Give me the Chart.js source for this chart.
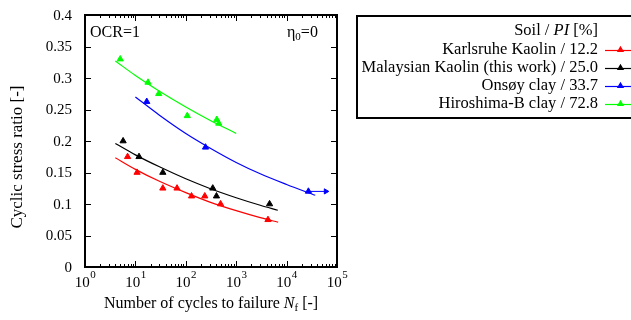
<!DOCTYPE html>
<html>
<head>
<meta charset="utf-8">
<script src="https://cdn.jsdelivr.net/npm/chart.js@4.4.1/dist/chart.umd.min.js"></script>
<style>
  html, body { margin: 0; padding: 0; background: #fff; }
  #wrap { width: 631px; height: 320px; }
</style>
</head>
<body>
<div id="wrap"><canvas id="chart" width="631" height="320"></canvas></div>
<script>
// ejes
const xTicks = [1, 10, 100, 1000, 10000, 100000];
const xTickExp = ['0', '1', '2', '3', '4', '5'];
const yTicks = [0, 0.05, 0.1, 0.15, 0.2, 0.25, 0.3, 0.35, 0.4];
const yTickLabels = ['0', '0.05', '0.1', '0.15', '0.2', '0.25', '0.3', '0.35', '0.4'];

// series
const soilNames = ['Karlsruhe Kaolin / 12.2', 'Malaysian Kaolin (this work) / 25.0', 'Onsøy clay / 33.7', 'Hiroshima-B clay / 72.8'];
const soilColors = ['#ff0000', '#000000', '#0000ff', '#00ff00'];

const karlsruheN = [7, 10.8, 35, 67, 130, 238, 490, 4270];
const karlsruheCSR = [0.175, 0.15, 0.125, 0.125, 0.1125, 0.1125, 0.1, 0.075];
const malaysianN = [5.7, 11.8, 35, 343, 406, 4590];
const malaysianCSR = [0.2, 0.175, 0.15, 0.125, 0.1125, 0.1];
const onsoyN = [16.8, 246, 27100];
const onsoyCSR = [0.2625, 0.19, 0.12];
const hiroshimaN = [5, 17.8, 29, 107, 412, 451];
const hiroshimaCSR = [0.33, 0.293, 0.275, 0.24, 0.234, 0.228];

// curvas de ajuste
const karlsruheFitN = [4, 10, 30, 100, 300, 1000, 3000, 6800];
const karlsruheFitCSR = [0.1734, 0.155, 0.136, 0.118, 0.103, 0.0894, 0.0783, 0.0711];
const malaysianFitN = [4, 10, 30, 100, 300, 1000, 3000, 6700];
const malaysianFitCSR = [0.196, 0.178, 0.159, 0.140, 0.1247, 0.110, 0.098, 0.0901];
const onsoyFitN = [10, 30, 100, 300, 1000, 3000, 10000, 37000];
const onsoyFitCSR = [0.27, 0.241, 0.212, 0.189, 0.166, 0.148, 0.131, 0.1138];
const hiroshimaFitN = [4, 10, 30, 100, 300, 1000];
const hiroshimaFitCSR = [0.327, 0.304, 0.279, 0.254, 0.233, 0.212];

// flecha de Onsøy
const onsoyArrowN = [27100, 60000];
const onsoyArrowCSR = [0.12, 0.12];

const SERIF = '"Liberation Serif", "DejaVu Serif", serif';

function pts(xs, ys) {
    return xs.map((x, i) => ({ x: x, y: ys[i] }));
}

function pointSet(xs, ys, color) {
    return {
        data: pts(xs, ys), showLine: false, pointStyle: 'triangle',
        pointRadius: 3.6, pointBorderWidth: 1, borderColor: color, backgroundColor: color
    };
}

function fitSet(xs, ys, color) {
    return {
        data: pts(xs, ys), pointRadius: 0, borderColor: color, borderWidth: 1.2,
        cubicInterpolationMode: 'monotone', fill: false
    };
}

const datasets = [
    fitSet(karlsruheFitN, karlsruheFitCSR, soilColors[0]),
    fitSet(malaysianFitN, malaysianFitCSR, soilColors[1]),
    fitSet(onsoyFitN, onsoyFitCSR, soilColors[2]),
    fitSet(hiroshimaFitN, hiroshimaFitCSR, soilColors[3]),
    pointSet(karlsruheN, karlsruheCSR, soilColors[0]),
    pointSet(malaysianN, malaysianCSR, soilColors[1]),
    pointSet(onsoyN, onsoyCSR, soilColors[2]),
    pointSet(hiroshimaN, hiroshimaCSR, soilColors[3]),
    {
        data: pts(onsoyArrowN, onsoyArrowCSR), borderColor: soilColors[2], backgroundColor: soilColors[2],
        borderWidth: 1, pointStyle: 'triangle', pointRadius: [0, 3], pointRotation: 90
    }
];

// dibuja marco, ticks, etiquetas, textos y leyenda
const decoPlugin = {
    id: 'deco',
    afterDatasetsDraw(chart) {
        const ctx = chart.ctx;
        const a = chart.chartArea;
        const xs = chart.scales.x, ys = chart.scales.y;
        ctx.save();
        ctx.strokeStyle = '#000';
        ctx.fillStyle = '#000';

        // ticks x (mayores y menores)
        ctx.lineWidth = 1;
        ctx.beginPath();
        for (let d = 0; d < xTicks.length; d++) {
            const px = Math.round(xs.getPixelForValue(xTicks[d])) + 0.5;
            ctx.moveTo(px, a.bottom); ctx.lineTo(px, a.bottom - 6);
            ctx.moveTo(px, a.top); ctx.lineTo(px, a.top + 6);
            if (d < xTicks.length - 1) {
                for (let m = 2; m < 10; m++) {
                    const mx = Math.round(xs.getPixelForValue(xTicks[d] * m)) + 0.5;
                    ctx.moveTo(mx, a.bottom); ctx.lineTo(mx, a.bottom - 3);
                    ctx.moveTo(mx, a.top); ctx.lineTo(mx, a.top + 3);
                }
            }
        }
        // ticks y
        yTicks.forEach(v => {
            const py = Math.round(ys.getPixelForValue(v)) + 0.5;
            ctx.moveTo(a.left, py); ctx.lineTo(a.left + 6, py);
            ctx.moveTo(a.right, py); ctx.lineTo(a.right - 6, py);
        });
        ctx.stroke();

        // marco
        ctx.lineWidth = 2;
        ctx.strokeRect(a.left, a.top, a.right - a.left, a.bottom - a.top);

        // etiquetas y
        ctx.font = '15px ' + SERIF;
        ctx.textAlign = 'right';
        ctx.textBaseline = 'middle';
        yTicks.forEach((v, i) => {
            ctx.fillText(yTickLabels[i], a.left - 13, ys.getPixelForValue(v) + 1);
        });

        // etiquetas x: 10^n
        xTicks.forEach((v, i) => {
            const px = xs.getPixelForValue(v);
            ctx.font = '15px ' + SERIF;
            const wBase = ctx.measureText('10').width;
            ctx.font = '11px ' + SERIF;
            const wExp = ctx.measureText(xTickExp[i]).width;
            const x0 = px - (wBase + wExp) / 2;
            ctx.textAlign = 'left';
            ctx.textBaseline = 'alphabetic';
            ctx.font = '15px ' + SERIF;
            ctx.fillText('10', x0, a.bottom + 20);
            ctx.font = '11px ' + SERIF;
            ctx.fillText(xTickExp[i], x0 + wBase + 0.5, a.bottom + 11);
        });

        // titulo eje x
        ctx.font = '16px ' + SERIF;
        const t1 = 'Number of cycles to failure ';
        const t2 = ' [-]';
        ctx.font = '16px ' + SERIF;
        const w1 = ctx.measureText(t1).width;
        const w3 = ctx.measureText(t2).width;
        ctx.font = 'italic 16px ' + SERIF;
        const w2 = ctx.measureText('N').width;
        ctx.font = '11px ' + SERIF;
        const wf = ctx.measureText('f').width;
        let tx = (a.left + a.right) / 2 - (w1 + w2 + wf + w3) / 2;
        const ty = 308;
        ctx.font = '16px ' + SERIF;
        ctx.fillText(t1, tx, ty); tx += w1;
        ctx.font = 'italic 16px ' + SERIF;
        ctx.fillText('N', tx, ty); tx += w2;
        ctx.font = '11px ' + SERIF;
        ctx.fillText('f', tx, ty + 3); tx += wf;
        ctx.font = '16px ' + SERIF;
        ctx.fillText(t2, tx, ty);

        // titulo eje y
        ctx.save();
        ctx.translate(18, 157);
        ctx.rotate(-Math.PI / 2);
        ctx.textAlign = 'center';
        ctx.textBaseline = 'middle';
        ctx.font = '17px ' + SERIF;
        ctx.fillText('Cyclic stress ratio [-]', 0, 0);
        ctx.restore();

        // textos dentro del grafico
        ctx.textAlign = 'left';
        ctx.textBaseline = 'alphabetic';
        ctx.font = '16px ' + SERIF;
        ctx.fillText('OCR=1', a.left + 5, 37);
        const etaX = 287;
        ctx.fillText('\u03b7', etaX, 37);
        const we = ctx.measureText('\u03b7').width;
        ctx.font = '11px ' + SERIF;
        ctx.fillText('0', etaX + we, 40);
        const w0 = ctx.measureText('0').width;
        ctx.font = '16px ' + SERIF;
        ctx.fillText('=0', etaX + we + w0, 37);

        // leyenda
        ctx.lineWidth = 2;
        ctx.strokeStyle = '#000';
        ctx.strokeRect(357, 16, 300, 102);
        const rx = 598;
        ctx.textAlign = 'right';
        ctx.textBaseline = 'middle';
        // titulo leyenda: Soil / PI [%]
        ctx.font = '16.5px ' + SERIF;
        const lt3 = ' [%]';
        const lw3 = ctx.measureText(lt3).width;
        ctx.fillText(lt3, rx, 31);
        ctx.font = 'italic 16.5px ' + SERIF;
        const lw2 = ctx.measureText('PI').width;
        ctx.fillText('PI', rx - lw3, 31);
        ctx.font = '16.5px ' + SERIF;
        ctx.fillText('Soil / ', rx - lw3 - lw2, 31);

        soilNames.forEach((name, i) => {
            const ly = 49.5 + i * 18;
            ctx.fillStyle = '#000';
            ctx.font = '16.5px ' + SERIF;
            ctx.fillText(name, rx, ly);
            ctx.strokeStyle = soilColors[i];
            ctx.fillStyle = soilColors[i];
            ctx.lineWidth = 1.2;
            ctx.beginPath();
            ctx.moveTo(605, Math.round(ly) + 0.5);
            ctx.lineTo(636, Math.round(ly) + 0.5);
            ctx.stroke();
            Chart.helpers.drawPoint(ctx, { pointStyle: 'triangle', radius: 3, rotation: 0, borderWidth: 1 }, 620.5, Math.round(ly));
        });
        ctx.restore();
    }
};

new Chart(document.getElementById('chart'), {
    type: 'line',
    data: { datasets: datasets },
    options: {
        responsive: false,
        animation: false,
        devicePixelRatio: 1,
        layout: { padding: { left: 85, top: 15, right: 294, bottom: 53 } },
        plugins: { legend: { display: false }, tooltip: { enabled: false } },
        scales: {
            x: { type: 'logarithmic', min: 1, max: 100000, display: false },
            y: { type: 'linear', min: 0, max: 0.4, display: false }
        }
    },
    plugins: [decoPlugin]
});
</script>
</body>
</html>
